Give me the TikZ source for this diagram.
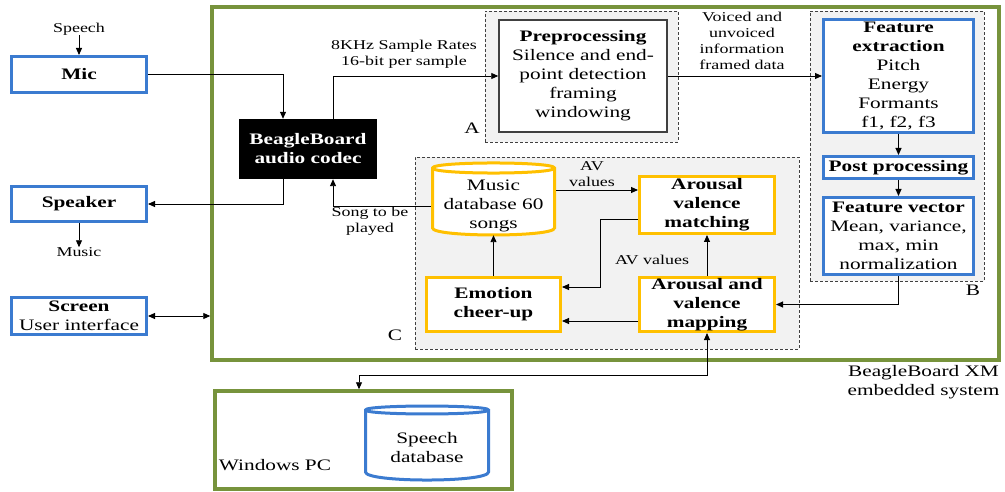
\documentclass[tikz,border=0pt]{standalone}
\usepackage{fontspec}
\setmainfont{Liberation Serif}[FakeStretch=1.33]
\usetikzlibrary{arrows.meta,calc}
\definecolor{bblue}{HTML}{3B7BD0}
\definecolor{bgreen}{HTML}{77933C}
\definecolor{byellow}{HTML}{FFC000}
\definecolor{dgray}{HTML}{404040}
\begin{document}
\begin{tikzpicture}[x=1pt,y=-1pt,
  big/.style={font=\fontsize{16}{19}\selectfont},
  bbig/.style={font=\fontsize{16}{19}\selectfont\bfseries},
  small/.style={font=\fontsize{13.5}{16}\selectfont},
  bluebox/.style={draw=bblue,line width=3pt,fill=white,inner sep=0pt,align=center},
  yelbox/.style={draw=byellow,line width=3pt,fill=white,inner sep=0pt,align=center,bbig},
  greenbox/.style={draw=bgreen,line width=3.5pt,fill=white,inner sep=0pt},
  dashbox/.style={draw=dgray,dash pattern=on 3pt off 2pt,line width=0.8pt,fill=black!5,inner sep=0pt},
  lbl/.style={inner sep=0pt,align=center},
  conn/.style={line width=0.9pt,-{Triangle[length=7pt,width=6pt]}},
  dconn/.style={line width=0.9pt,{Triangle[length=7pt,width=6pt]}-{Triangle[length=7pt,width=6pt]}},
]
\useasboundingbox (0,0) rectangle (1005,492);

% containers
\node[greenbox,minimum width=787pt,minimum height=353pt] (xm) at (605.5,183.5) {};
\node[greenbox,minimum width=297pt,minimum height=98pt] (winpc) at (363.5,440) {};
\node[dashbox,minimum width=193pt,minimum height=131pt] (boxA) at (581.5,76.5) {};
\node[dashbox,minimum width=174pt,minimum height=270pt] (boxB) at (897,146) {};
\node[dashbox,minimum width=384pt,minimum height=192pt] (boxC) at (607,253) {};

% left column
\node[bluebox,bbig,minimum width=135pt,minimum height=36pt] (mic) at (79,74.5) {Mic};
\node[bluebox,bbig,minimum width=135pt,minimum height=35pt] (speaker) at (79,204) {Speaker};
\node[bluebox,big,minimum width=135pt,minimum height=37pt] (screen) at (79,316) {\textbf{Screen}\\User interface};
\node[lbl,small] (speechlbl) at (79,29) {Speech};
\node[lbl,small] (musiclbl) at (79,252) {Music};

% codec
\node[fill=black,text=white,minimum width=138pt,minimum height=60pt,inner sep=0pt,align=center,bbig] (codec) at (308,149) {BeagleBoard\\audio codec};

% preprocessing
\node[draw=dgray,line width=1.5pt,fill=white,inner sep=0pt,align=center,big,minimum width=168pt,minimum height=112pt] (pre) at (583,76) {\textbf{Preprocessing}\\Silence and end-\\point detection\\framing\\windowing};

% feature blocks
\node[bluebox,big,minimum width=150pt,minimum height=113pt] (fe) at (898.5,76) {\textbf{Feature}\\\textbf{extraction}\\Pitch\\Energy\\Formants\\f1, f2, f3};
\node[bluebox,bbig,minimum width=150pt,minimum height=22pt] (pp) at (898.5,167.5) {Post processing};
\node[bluebox,big,minimum width=150pt,minimum height=77pt] (fv) at (898.5,236) {\textbf{Feature vector}\\Mean, variance,\\max, min\\normalization};

% music database cylinder
\filldraw[draw=byellow,line width=3pt,fill=white]
  (432.5,168) -- (432.5,228) .. controls (432.5,237.3) and (554.5,237.3) .. (554.5,228)
  -- (554.5,168) .. controls (554.5,161.3) and (432.5,161.3) .. (432.5,168) -- cycle;
\draw[draw=byellow,line width=3pt] (432.5,168) .. controls (432.5,174.7) and (554.5,174.7) .. (554.5,168);
\node[lbl,big,minimum width=125pt,minimum height=58pt] (music) at (493.5,206) {Music\\database 60\\songs};

% C blocks
\node[yelbox,minimum width=135pt,minimum height=57pt] (match) at (707,205) {Arousal\\valence\\matching};
\node[yelbox,minimum width=134pt,minimum height=54pt] (emotion) at (493.5,304.5) {Emotion\\cheer-up};
\node[yelbox,minimum width=135pt,minimum height=54pt] (mapping) at (707,304.5) {Arousal and\\valence\\mapping};

% speech database cylinder
\filldraw[draw=bblue,line width=3pt,fill=white]
  (365.5,410) -- (365.5,472) .. controls (365.5,482.7) and (488.5,482.7) .. (488.5,472)
  -- (488.5,410) .. controls (488.5,404.7) and (365.5,404.7) .. (365.5,410) -- cycle;
\draw[draw=bblue,line width=3pt] (365.5,410) .. controls (365.5,415.3) and (488.5,415.3) .. (488.5,410);
\node[lbl,big] (sdb) at (427,448) {Speech\\database};

% labels
\node[lbl,big] (lA) at (472,128) {A};
\node[lbl,big] (lB) at (973,290) {B};
\node[lbl,big] (lC) at (395,335) {C};
\node[lbl,big] (lwin) at (275,465) {Windows PC};
\node[lbl,big] (lxm) at (923.5,382.5) {BeagleBoard XM\\embedded system};
\node[lbl,small] (lrate) at (404,54) {8KHz Sample Rates\\16-bit per sample};
\node[lbl,small] (lvoiced) at (742,40.5) {Voiced and\\unvoiced\\information\\framed data};
\node[lbl,small] (lsong) at (370,221) {Song to be\\played};
\node[lbl,small] (lav1) at (592,174.5) {AV\\values};
\node[lbl,small] (lav2) at (652,260) {AV values};

% connectors
\draw[conn] (speechlbl.south) -- (mic.north);
\draw[conn] (speaker.south) -- (musiclbl.north);
\draw[dconn] (screen.east) -- (screen.east -| xm.west);
\draw[conn] (mic.east) -| ($(codec.north)+(-25,0)$);
\draw[conn] ($(codec.south)+(-25,0)$) |- (speaker.east);
\draw[conn] ($(codec.north)+(25,0)$) |- (pre.west);
\draw[conn] (music.west) -| ($(codec.south)+(25,0)$);
\draw[conn] (pre.east) -- (fe.west);
\draw[conn] (fe.south) -- (pp.north);
\draw[conn] (pp.south) -- (fv.north);
\draw[conn] (fv.south) |- (mapping.east);
\coordinate (mav) at ($(music.east)+(0,-16)$);
\draw[conn] (mav) -- (mav -| match.west);
\coordinate (avb) at (600,287);
\draw[conn] ($(match.west)+(0,14)$) -| (avb) -- (avb -| emotion.east);
\draw[conn] ($(mapping.west)+(0,16.5)$) -- ($(emotion.east)+(0,16.5)$);
\draw[conn] (emotion.north) -- (emotion.north |- music.south);
\draw[conn] (mapping.north) -- (match.south);
\coordinate (wpc) at (359,375);
\draw[dconn] (mapping.south) |- (wpc) -- (wpc |- winpc.north);
\end{tikzpicture}
\end{document}
